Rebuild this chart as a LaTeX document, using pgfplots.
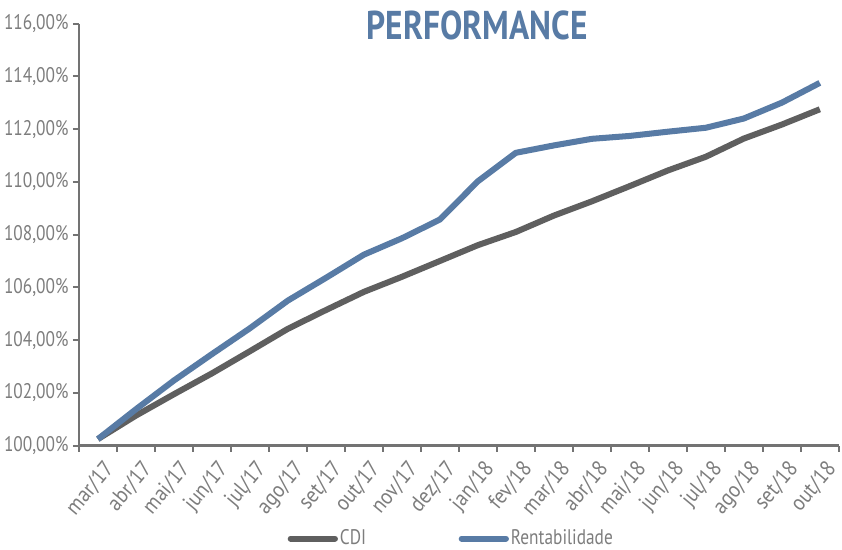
\documentclass[border=0pt]{standalone}
\usepackage{pgfplots}
\pgfplotsset{compat=1.18}
\usepackage{fontspec}
\setmainfont{PT Sans}
\usepackage{graphicx}
\definecolor{cdi}{RGB}{95,95,95}
\definecolor{rent}{RGB}{88,123,165}
\definecolor{lbl}{RGB}{125,125,125}
\definecolor{axl}{RGB}{115,115,115}
\newcommand{\nar}[1]{\scalebox{0.82}[1]{#1}}
\newcommand{\xn}[1]{\scalebox{0.9}[1]{#1}}
\begin{document}
\begin{tikzpicture}
\begin{axis}[
  scale only axis, width=378pt, height=210pt,
  xmin=-0.5, xmax=19.5, ymin=100, ymax=116,
  axis lines=left, axis line style={-, axl, line width=1.2pt},
  tick align=outside,
  xtick={0,...,19},
  major x tick style={draw=none},
  minor xtick={-0.5,0.5,...,19.5},
  minor x tick style={axl, line width=1pt},
  minor tick length=3pt,
  ytick={100,102,...,116},
  major y tick style={axl, line width=1pt},
  major tick length=3pt,
  /pgf/number format/assume math mode=true,
  yticklabel={\nar{\pgfmathprintnumber[fixed,fixed zerofill,precision=2,use comma]{\tick}\%}},
  yticklabel style={font=\fontsize{10.5}{12}\selectfont, text=lbl, inner sep=2pt},
  xticklabels={\xn{mar/17},\xn{abr/17},\xn{mai/17},\xn{jun/17},\xn{jul/17},\xn{ago/17},\xn{set/17},\xn{out/17},\xn{nov/17},\xn{dez/17},\xn{jan/18},\xn{fev/18},\xn{mar/18},\xn{abr/18},\xn{mai/18},\xn{jun/18},\xn{jul/18},\xn{ago/18},\xn{set/18},\xn{out/18}},
  xticklabel style={font=\fontsize{11}{12}\selectfont, text=lbl, rotate=50, anchor=north east, inner sep=1pt, yshift=-3pt},
  legend style={at={(0.49,-0.22)}, anchor=center, draw=none, fill=none, legend columns=2,
    inner sep=0pt, nodes={inner sep=1pt},
    font=\fontsize{10.5}{12}\selectfont, text=lbl,
    /tikz/every even column/.append style={column sep=45pt}},
  legend cell align=left,
  legend image code/.code={\draw[#1, line cap=round] (0pt,0pt) -- (22pt,0pt);},
  clip=false,
]
\addplot[cdi, line width=3pt, line join=round] coordinates {
(0,100.25) (1,101.14) (2,101.95) (3,102.74) (4,103.58) (5,104.43) (6,105.14) (7,105.83) (8,106.4) (9,107.0)
(10,107.6) (11,108.1) (12,108.72) (13,109.26) (14,109.84) (15,110.43) (16,110.95) (17,111.64) (18,112.17) (19,112.75)};
\addlegendentry{\nar{CDI}}
\addplot[rent, line width=3pt, line join=round] coordinates {
(0,100.25) (1,101.38) (2,102.47) (3,103.47) (4,104.45) (5,105.5) (6,106.36) (7,107.24) (8,107.86) (9,108.57)
(10,110.02) (11,111.1) (12,111.38) (13,111.63) (14,111.74) (15,111.9) (16,112.05) (17,112.4) (18,113.0) (19,113.75)};
\addlegendentry{\nar{Rentabilidade}}
\node[font=\bfseries\fontsize{20}{24}\selectfont, text=rent] at (rel axis cs:0.524,0.996) {\scalebox{0.83}[1]{PERFORMANCE}};
\node[anchor=south, inner sep=0pt, minimum height=11.5pt, minimum width=1pt] at (rel axis cs:0.5,1) {};
\end{axis}
\end{tikzpicture}
\end{document}
